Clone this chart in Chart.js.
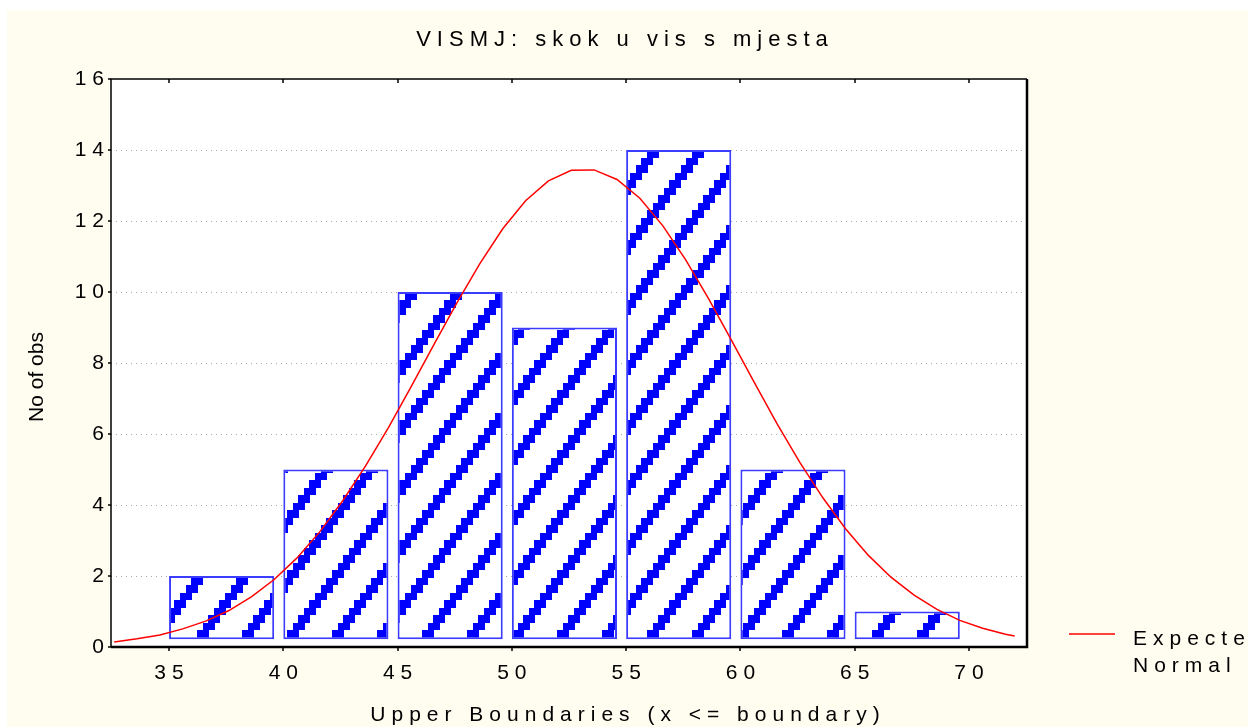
<!DOCTYPE html>
<html>
<head>
<meta charset="utf-8">
<script src="https://cdn.jsdelivr.net/npm/chart.js@4.4.1/dist/chart.umd.min.js"></script>
<style>
  html, body { margin: 0; padding: 0; background: #fff; }
  canvas { display: block; }
</style>
</head>
<body>
<canvas id="histChart" width="1258" height="727"></canvas>
<script>
const titleText = 'VISMJ: skok u vis s mjesta';
const xTitle = 'Upper Boundaries (x <= boundary)';
const yTitle = 'No of obs';
const legendLines = ['Expected', 'Normal'];

// lower edge of each class and its number of observations
const bins = [35, 40, 45, 50, 55, 60, 65];
const counts = [2, 5, 10, 9, 14, 5, 1];

const xTicks = [35, 40, 45, 50, 55, 60, 65, 70];
const yTicks = [0, 2, 4, 6, 8, 10, 12, 14, 16];

// expected normal curve
const curveX = [32.6, 33.6, 34.6, 35.6, 36.6, 37.6, 38.6, 39.6, 40.6, 41.6,
  42.6, 43.6, 44.6, 45.6, 46.6, 47.6, 48.6, 49.6, 50.6, 51.6,
  52.6, 53.6, 54.6, 55.6, 56.6, 57.6, 58.6, 59.6, 60.6, 61.6,
  62.6, 63.6, 64.6, 65.6, 66.6, 67.6, 68.6, 69.6, 70.6, 71.6, 72.0];
const curveY = [0.14, 0.23, 0.34, 0.51, 0.73, 1.02, 1.41, 1.90, 2.51, 3.25,
  4.12, 5.10, 6.18, 7.34, 8.53, 9.70, 10.80, 11.78, 12.57, 13.13,
  13.43, 13.44, 13.17, 12.64, 11.87, 10.91, 9.82, 8.65, 7.46, 6.29,
  5.20, 4.21, 3.33, 2.58, 1.96, 1.46, 1.06, 0.75, 0.53, 0.36, 0.31];

const FONT = '"Liberation Sans", Arial, Helvetica, sans-serif';
const CREAM = '#fffdf0';
const BLUE = '#0000ff';
const xMin = 32.46, xMax = 72.54;
const barSpan = 4.6;      // bar width in x units
const barBase = 0.22;     // bars sit slightly above zero

// stepped diagonal hatch used to fill the bars
function makeHatch() {
  const W = 45, H = 60, steps = 8;
  const c = document.createElement('canvas');
  c.width = W; c.height = H;
  const g = c.getContext('2d');
  g.fillStyle = '#fff';
  g.fillRect(0, 0, W, H);
  g.fillStyle = BLUE;
  const sw = W / steps, sh = H / steps;
  for (let i = 0; i < steps; i++) {
    const x = Math.round(i * sw);
    const y = Math.round(H - (i + 1) * sh);
    const h = Math.round(H - i * sh) - y;
    g.fillRect(x, y, 12, h);
    g.fillRect(x - W, y, 12, h);
  }
  return g.createPattern(c, 'repeat');
}

const spacing = {
  id: 'spacing',
  beforeUpdate(chart) { chart.ctx.letterSpacing = '6px'; },
  beforeDraw(chart) { chart.ctx.letterSpacing = '6px'; }
};

const decor = {
  id: 'decor',
  beforeDraw(chart) {
    const { ctx, chartArea: a } = chart;
    ctx.save();
    ctx.fillStyle = '#fff';
    ctx.fillRect(0, 0, chart.width, chart.height);
    ctx.fillStyle = CREAM;
    ctx.fillRect(7, 10, 1241, chart.height - 10);
    ctx.fillStyle = '#fff';
    ctx.fillRect(a.left, a.top, a.right - a.left, a.bottom - a.top);
    ctx.restore();
  },
  beforeDatasetsDraw(chart) {
    const { ctx, chartArea: a, scales } = chart;
    ctx.save();
    ctx.strokeStyle = '#a8a8a8';
    ctx.lineWidth = 1;
    ctx.setLineDash([1, 4]);
    yTicks.slice(1, -1).forEach(v => {
      const y = Math.round(scales.y.getPixelForValue(v)) + 0.5;
      ctx.beginPath();
      ctx.moveTo(a.left, y);
      ctx.lineTo(a.right, y);
      ctx.stroke();
    });
    ctx.restore();
  },
  afterDatasetsDraw(chart) {
    const { ctx, chartArea: a, scales } = chart;
    ctx.save();
    ctx.strokeStyle = '#000';
    // frame: thin left/top, heavier right/bottom
    ctx.lineWidth = 1.5;
    ctx.beginPath();
    ctx.moveTo(a.left, a.bottom);
    ctx.lineTo(a.left, a.top);
    ctx.lineTo(a.right, a.top);
    ctx.stroke();
    ctx.lineWidth = 2.5;
    ctx.beginPath();
    ctx.moveTo(a.right, a.top);
    ctx.lineTo(a.right, a.bottom);
    ctx.lineTo(a.left, a.bottom);
    ctx.stroke();
    ctx.lineWidth = 1.5;
    xTicks.forEach(v => {
      const x = Math.round(scales.x.getPixelForValue(v));
      ctx.beginPath();
      ctx.moveTo(x, a.top);
      ctx.lineTo(x, a.top + 4);
      ctx.moveTo(x, a.bottom);
      ctx.lineTo(x, a.bottom + 4);
      ctx.stroke();
    });
    yTicks.forEach(v => {
      const y = Math.round(scales.y.getPixelForValue(v));
      ctx.beginPath();
      ctx.moveTo(a.left - 3, y);
      ctx.lineTo(a.left, y);
      ctx.stroke();
    });
    ctx.restore();
  },
  afterDraw(chart) {
    const { ctx } = chart;
    ctx.save();
    ctx.fillStyle = '#000';
    ctx.letterSpacing = '6px';
    ctx.textBaseline = 'alphabetic';
    ctx.textAlign = 'center';
    ctx.font = '22px ' + FONT;
    ctx.fillText(titleText, 625, 46);
    ctx.font = '21px ' + FONT;
    ctx.fillText(xTitle, 628, 721);

    // legend, cut off at the panel edge
    ctx.save();
    ctx.beginPath();
    ctx.rect(0, 0, 1250, chart.height);
    ctx.clip();
    ctx.strokeStyle = '#ff0000';
    ctx.lineWidth = 1.5;
    ctx.beginPath();
    ctx.moveTo(1069, 634);
    ctx.lineTo(1115, 634);
    ctx.stroke();
    ctx.textAlign = 'left';
    ctx.font = '21px ' + FONT;
    ctx.fillText(legendLines[0], 1133, 645);
    ctx.fillText(legendLines[1], 1133, 672);
    ctx.restore();

    ctx.letterSpacing = '0px';
    ctx.font = '21px ' + FONT;
    ctx.translate(43, 377);
    ctx.rotate(-Math.PI / 2);
    ctx.fillText(yTitle, 0, 0);
    ctx.restore();
  }
};

const ctx = document.getElementById('histChart').getContext('2d');
const hatch = makeHatch();

new Chart(ctx, {
  type: 'bar',
  data: {
    datasets: [
      {
        type: 'line',
        label: 'Expected Normal',
        data: curveX.map((x, i) => ({ x, y: curveY[i] })),
        borderColor: '#ff0000',
        borderWidth: 1.5,
        pointRadius: 0,
        fill: false,
        tension: 0
      },
      {
        type: 'bar',
        label: yTitle,
        data: bins.map((b, i) => ({ x: b + barSpan / 2, y: [barBase, counts[i]] })),
        backgroundColor: hatch,
        borderColor: '#3c3cff',
        borderWidth: 2,
        borderSkipped: false,
        barPercentage: barSpan / 5,
        categoryPercentage: 1
      }
    ]
  },
  options: {
    responsive: false,
    animation: false,
    devicePixelRatio: 1,
    layout: { padding: { top: 79, right: 231, bottom: 0, left: 0 } },
    plugins: {
      legend: { display: false },
      title: { display: false },
      tooltip: { enabled: false }
    },
    scales: {
      x: {
        type: 'linear',
        position: 'bottom',
        min: xMin,
        max: xMax,
        offset: false,
        afterBuildTicks(s) { s.ticks = xTicks.map(v => ({ value: v })); },
        afterFit(s) { s.height = 80; },
        ticks: {
          font: { family: FONT, size: 21 },
          color: '#000',
          padding: 14,
          labelOffset: 3,
          maxRotation: 0,
          autoSkip: false
        },
        grid: { display: false, drawTicks: false },
        border: { display: false }
      },
      y: {
        type: 'linear',
        min: 0,
        max: 16,
        afterBuildTicks(s) { s.ticks = yTicks.map(v => ({ value: v })); },
        afterFit(s) { s.width = 111; },
        ticks: {
          font: { family: FONT, size: 21 },
          color: '#000',
          padding: 1
        },
        grid: { display: false, drawTicks: false },
        border: { display: false }
      }
    }
  },
  plugins: [spacing, decor]
});
</script>
</body>
</html>
